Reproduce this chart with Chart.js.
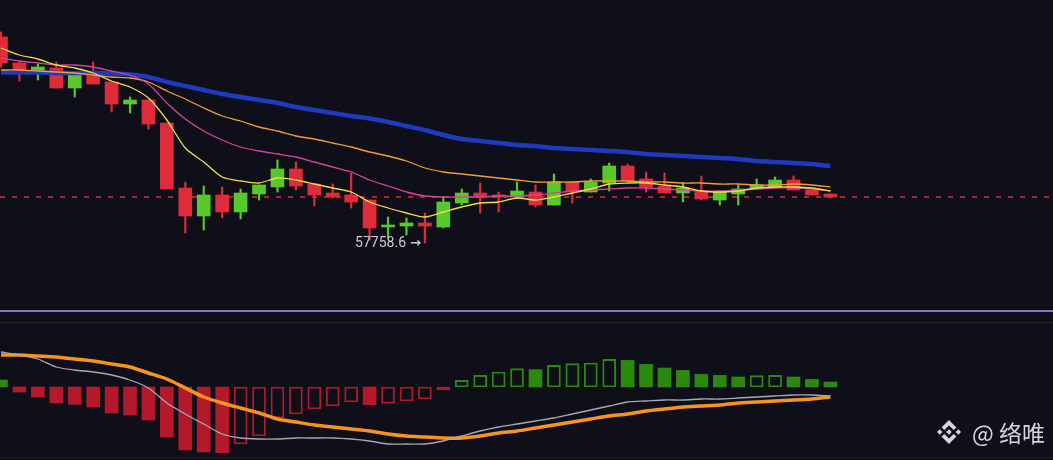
<!DOCTYPE html>
<html>
<head>
<meta charset="utf-8">
<script src="https://cdn.jsdelivr.net/npm/chart.js@4.4.1/dist/chart.umd.min.js"></script>
<style>
  body { margin: 0; background: #0e0f18; width: 1053px; height: 460px; overflow: hidden; position: relative; }
  canvas { position: absolute; left: 0; }
  .rule { position: absolute; left: 0; width: 1053px; }
  .mark { position: absolute; left: 937px; top: 420px; display: flex; align-items: center; color: #d6d6da; }
  .mark span { font-family: "Noto Sans CJK SC", sans-serif; font-size: 23px; line-height: 23px; margin-left: 11px; }
</style>
</head>
<body>
<canvas id="price" width="1053" height="310" style="top:0"></canvas>
<div class="rule" style="top:310px;height:2px;background:#8d72c8"></div>
<div class="rule" style="top:322px;height:1px;background:#23232e"></div>
<canvas id="macd" width="1053" height="149" style="top:311px"></canvas>
<div class="rule" style="top:457px;height:1px;background:#23232e"></div>
<div class="mark">
  <svg width="24" height="24" viewBox="0 0 126.61 126.61"><path fill="#d6d6da" d="M38.73 53.2l24.59-24.58 24.6 24.6 14.3-14.31L63.32 0 24.42 38.9l14.31 14.3zM0 63.31l14.3-14.31 14.31 14.31-14.31 14.3zM38.73 73.41l24.59 24.59 24.6-24.6 14.31 14.29-38.9 38.91-38.91-38.88-.02-.02 14.33-14.29zM98.28 63.31l14.3-14.31 14.31 14.3-14.31 14.32zM77.83 63.3L63.32 48.78 52.59 59.51l-1.24 1.23-2.54 2.54-.02.02.02.02 14.51 14.5 14.51-14.52.01-.01z"/></svg>
  <span>@ 络唯</span>
</div>
<script>
// candles (oldest -> newest)
const opens = [62910, 62260, 62060, 62135, 61635, 61960, 61785, 61235, 61335, 60760,
  59135, 58435, 58960, 58535, 58985, 59160, 59610, 59235, 59010, 58960,
  58835, 58160, 58185, 58260, 58160, 58760, 59010, 58960, 58910, 59035,
  58710, 59285, 59035, 59260, 59685, 59360, 59185, 59010, 59060, 58835,
  58985, 59110, 59160, 59335, 59085, 58985];
const highs = [63035, 62310, 62235, 62285, 61960, 62285, 61785, 61410, 61335, 60760,
  59285, 59185, 59160, 59110, 59210, 59835, 59785, 59235, 59235, 59510,
  58835, 58410, 58385, 58510, 58910, 59110, 59260, 59035, 59285, 59210,
  59485, 59285, 59360, 59760, 59735, 59535, 59510, 59260, 59435, 59035,
  59210, 59360, 59410, 59435, 59085, 58985];
const lows = [62160, 61810, 61835, 61635, 61410, 61735, 61035, 61010, 60610, 59110,
  58010, 58085, 58385, 58360, 58835, 59035, 59085, 58685, 58885, 58635,
  57835, 57885, 57960, 57758.6, 58135, 58710, 58510, 58535, 58885, 58660,
  58710, 58760, 59035, 59060, 59310, 59035, 59010, 58785, 58835, 58710,
  58710, 59110, 59160, 59085, 58960, 58885];
const closes = [62260, 62060, 62160, 61635, 61960, 61735, 61235, 61335, 60735, 59110,
  58435, 58960, 58535, 59010, 59210, 59610, 59185, 58960, 58910, 58785,
  58135, 58210, 58260, 58185, 58785, 59010, 58910, 58910, 59060, 58710,
  59285, 59035, 59285, 59685, 59310, 59160, 59010, 59135, 58860, 59035,
  59110, 59210, 59335, 59085, 58960, 58910];

// moving averages
const ma7 = [62635, 62460, 62360, 62210, 62135, 62010, 61810, 61660, 61385, 60835,
  60135, 59785, 59410, 59310, 59260, 59385, 59335, 59235, 59135, 59035,
  58785, 58635, 58510, 58410, 58535, 58660, 58760, 58785, 58885, 58835,
  58910, 59010, 59110, 59235, 59260, 59260, 59210, 59160, 59060, 59035,
  59060, 59135, 59160, 59160, 59135, 59060];
const ma25 = [62385, 62310, 62260, 62210, 62210, 62160, 62060, 61960, 61735, 61260,
  60860, 60560, 60335, 60160, 60060, 59985, 59910, 59785, 59660, 59535,
  59335, 59185, 59035, 58935, 58910, 58910, 58910, 58935, 58935, 58960,
  59010, 59060, 59085, 59110, 59135, 59135, 59110, 59085, 59060, 59060,
  59085, 59110, 59135, 59135, 59110, 59060];
const ma50 = [62085, 62085, 62060, 62035, 62010, 61960, 61910, 61885, 61785, 61560,
  61360, 61135, 60935, 60810, 60660, 60560, 60435, 60360, 60260, 60160,
  60035, 59935, 59810, 59635, 59535, 59485, 59435, 59385, 59335, 59285,
  59285, 59285, 59310, 59310, 59310, 59285, 59285, 59260, 59260, 59235,
  59235, 59210, 59210, 59235, 59210, 59160];
const ma99 = [62020, 62020, 62020, 62010, 62010, 62010, 61998, 61972, 61910, 61785,
  61685, 61585, 61485, 61410, 61335, 61260, 61160, 61085, 61010, 60935,
  60872, 60785, 60685, 60585, 60460, 60360, 60310, 60260, 60210, 60185,
  60135, 60110, 60085, 60060, 60035, 59985, 59960, 59935, 59910, 59885,
  59860, 59810, 59785, 59760, 59735, 59685];

// MACD panel
const dif = [175, 160, 140, 100, 85, 75, 60, 35, -5, -80,
  -135, -185, -235, -255, -260, -260, -255, -255, -255, -260,
  -270, -285, -285, -285, -270, -245, -220, -200, -185, -170,
  -155, -135, -115, -95, -75, -70, -65, -65, -60, -60,
  -55, -50, -45, -40, -40, -45];
const dea = [160, 160, 155, 150, 140, 130, 115, 100, 70, 40,
  -5, -50, -80, -105, -130, -160, -175, -190, -200, -210,
  -220, -235, -245, -250, -255, -255, -245, -230, -220, -205,
  -190, -175, -160, -145, -135, -120, -110, -100, -95, -90,
  -80, -75, -70, -65, -60, -50];
const hist = [35, -25, -50, -80, -87, -100, -130, -140, -165, -250,
  -315, -325, -328, -285, -245, -155, -135, -110, -95, -75,
  -88, -82, -70, -60, -15, 33, 58, 75, 92, 87,
  108, 117, 120, 138, 133, 113, 95, 83, 63, 58,
  50, 57, 58, 50, 38, 25];

const UP = '#58c92b', DOWN = '#e02b3a';
const MACD_UP = '#2b8a0e', MACD_DOWN = '#b3192a';

const xAxis = { type: 'linear', min: -0.054, max: 57.08, offset: false, display: false };

const lineSet = (data, color, width) => ({
  type: 'line', data: data.map((v, i) => ({ x: i, y: v })),
  borderColor: color, borderWidth: width, pointRadius: 0, tension: 0.25, order: 0
});

// dashed last-price line and low label
const priceMarks = {
  id: 'priceMarks',
  beforeDatasetsDraw(chart) {
    const { ctx, scales } = chart;
    const y = scales.y.getPixelForValue(closes[closes.length - 1]);
    ctx.save();
    ctx.strokeStyle = DOWN;
    ctx.lineWidth = 1.3;
    ctx.setLineDash([5, 7]);
    ctx.beginPath();
    ctx.moveTo(0, y);
    ctx.lineTo(chart.width, y);
    ctx.stroke();
    ctx.restore();
  },
  afterDatasetsDraw(chart) {
    const { ctx, scales } = chart;
    const low = Math.min(...lows);
    const i = lows.indexOf(low);
    const right = scales.x.getPixelForValue(i) - 4;
    const y = scales.y.getPixelForValue(low);
    ctx.save();
    ctx.fillStyle = '#cacbdc';
    ctx.textAlign = 'right';
    ctx.textBaseline = 'middle';
    ctx.font = 'bold 13px "DejaVu Sans", sans-serif';
    ctx.fillText('→', right, y + 1);
    const arrowW = ctx.measureText('→').width;
    ctx.font = '14px Roboto, sans-serif';
    ctx.fillText(low.toFixed(1), right - arrowW - 4, y);
    ctx.restore();
  }
};

const candleColor = i => closes[i] >= opens[i] ? UP : DOWN;

new Chart(document.getElementById('price'), {
  type: 'bar',
  data: {
    datasets: [
      lineSet(ma7, '#f0e048', 1.3),
      lineSet(ma25, '#d5439b', 1.3),
      lineSet(ma50, '#f29d38', 1.3),
      lineSet(ma99, '#1e3abf', 4.5),
      {
        data: opens.map((o, i) => ({ x: i, y: [o, closes[i]] })),
        backgroundColor: ctx => candleColor(ctx.dataIndex),
        barThickness: 13, minBarLength: 2, grouped: false, order: 1
      },
      {
        data: lows.map((l, i) => ({ x: i, y: [l, highs[i]] })),
        backgroundColor: ctx => candleColor(ctx.dataIndex),
        barThickness: 1.5, grouped: false, order: 2
      }
    ]
  },
  options: {
    responsive: false,
    animation: false,
    layout: { padding: 0 },
    plugins: { legend: { display: false }, tooltip: { enabled: false } },
    scales: {
      x: xAxis,
      y: { min: 56085, max: 63835, display: false }
    }
  },
  plugins: [priceMarks]
});

const isHollow = i => {
  if (i === 0) return false;
  const v = hist[i], p = hist[i - 1];
  return v >= 0 ? v >= p : (p < 0 && Math.abs(v) < Math.abs(p));
};
const histColor = i => hist[i] >= 0 ? MACD_UP : MACD_DOWN;

new Chart(document.getElementById('macd'), {
  type: 'bar',
  data: {
    datasets: [
      lineSet(dif, '#a8a8b2', 1.3),
      lineSet(dea, '#f7931e', 3.5),
      {
        data: hist.map((v, i) => ({ x: i, y: v })),
        backgroundColor: ctx => isHollow(ctx.dataIndex) ? 'rgba(0,0,0,0)' : histColor(ctx.dataIndex),
        borderColor: ctx => histColor(ctx.dataIndex),
        borderWidth: ctx => isHollow(ctx.dataIndex) ? 1.2 : 0,
        borderSkipped: false,
        barThickness: 13, grouped: false, order: 1
      }
    ]
  },
  options: {
    responsive: false,
    animation: false,
    layout: { padding: 0 },
    plugins: { legend: { display: false }, tooltip: { enabled: false } },
    scales: {
      x: xAxis,
      y: { min: -365, max: 380, display: false }
    }
  }
});
</script>
</body>
</html>
